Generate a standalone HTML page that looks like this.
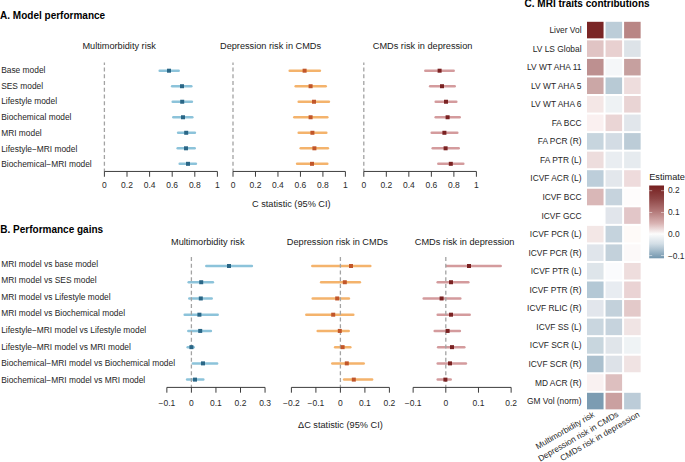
<!DOCTYPE html>
<html><head><meta charset="utf-8"><style>
html,body{margin:0;padding:0;background:#fff;}
svg{display:block;font-family:"Liberation Sans", sans-serif;}
</style></head><body>
<svg width="685" height="462" viewBox="0 0 685 462">
<rect width="685" height="462" fill="#fff"/>
<text x="0.1" y="18.6" font-size="10" text-anchor="start" font-weight="700" fill="#000" >A. Model performance</text>
<text x="0.3" y="233.3" font-size="10" text-anchor="start" font-weight="700" fill="#000" >B. Performance gains</text>
<text x="524.6" y="7.4" font-size="10" text-anchor="start" font-weight="700" fill="#000" >C. MRI traits contributions</text>
<text x="1.2" y="72.9" font-size="8.4" text-anchor="start" font-weight="400" fill="#262626" >Base model</text>
<text x="1.2" y="88.65" font-size="8.4" text-anchor="start" font-weight="400" fill="#262626" >SES model</text>
<text x="1.2" y="104.4" font-size="8.4" text-anchor="start" font-weight="400" fill="#262626" >Lifestyle model</text>
<text x="1.2" y="120.15" font-size="8.4" text-anchor="start" font-weight="400" fill="#262626" >Biochemical model</text>
<text x="1.2" y="135.9" font-size="8.4" text-anchor="start" font-weight="400" fill="#262626" >MRI model</text>
<text x="1.2" y="151.65" font-size="8.4" text-anchor="start" font-weight="400" fill="#262626" >Lifestyle−MRI model</text>
<text x="1.2" y="167.4" font-size="8.4" text-anchor="start" font-weight="400" fill="#262626" >Biochemical−MRI model</text>
<text x="82.4" y="49.4" font-size="9.2" text-anchor="start" font-weight="400" fill="#1a1a1a" >Multimorbidity risk</text>
<line x1="159.7" y1="70.7" x2="178.70000000000002" y2="70.7" stroke="#8cc3da" stroke-width="2.5" stroke-linecap="round"/>
<line x1="172.1" y1="86.22" x2="191.3" y2="86.22" stroke="#8cc3da" stroke-width="2.5" stroke-linecap="round"/>
<line x1="172.7" y1="101.74000000000001" x2="191.9" y2="101.74000000000001" stroke="#8cc3da" stroke-width="2.5" stroke-linecap="round"/>
<line x1="173.29999999999998" y1="117.26" x2="192.3" y2="117.26" stroke="#8cc3da" stroke-width="2.5" stroke-linecap="round"/>
<line x1="178.1" y1="132.78" x2="194.9" y2="132.78" stroke="#8cc3da" stroke-width="2.5" stroke-linecap="round"/>
<line x1="177.7" y1="148.3" x2="194.70000000000002" y2="148.3" stroke="#8cc3da" stroke-width="2.5" stroke-linecap="round"/>
<line x1="179.7" y1="163.82" x2="195.9" y2="163.82" stroke="#8cc3da" stroke-width="2.5" stroke-linecap="round"/>
<line x1="104.4" y1="62.5" x2="104.4" y2="171.45" stroke="#a3a3a3" stroke-width="1.3" stroke-dasharray="4 2.72" stroke-dashoffset="1.6"/>
<rect x="167" y="68.7" width="4" height="4" fill="#2a6686"/>
<rect x="180" y="84.22" width="4" height="4" fill="#2a6686"/>
<rect x="180.2" y="99.74000000000001" width="4" height="4" fill="#2a6686"/>
<rect x="181" y="115.26" width="4" height="4" fill="#2a6686"/>
<rect x="184.2" y="130.78" width="4" height="4" fill="#2a6686"/>
<rect x="184" y="146.3" width="4" height="4" fill="#2a6686"/>
<rect x="186" y="161.82" width="4" height="4" fill="#2a6686"/>
<line x1="104.4" y1="171.45" x2="217.4" y2="171.45" stroke="#333" stroke-width="0.95"/>
<line x1="104.4" y1="171.45" x2="104.4" y2="176.75" stroke="#333" stroke-width="0.95"/>
<text x="104.4" y="187.8" font-size="8.5" text-anchor="middle" font-weight="400" fill="#2a2a2a" >0</text>
<line x1="127.0" y1="171.45" x2="127.0" y2="176.75" stroke="#333" stroke-width="0.95"/>
<text x="127.0" y="187.8" font-size="8.5" text-anchor="middle" font-weight="400" fill="#2a2a2a" >0.2</text>
<line x1="149.60000000000002" y1="171.45" x2="149.60000000000002" y2="176.75" stroke="#333" stroke-width="0.95"/>
<text x="149.6" y="187.8" font-size="8.5" text-anchor="middle" font-weight="400" fill="#2a2a2a" >0.4</text>
<line x1="172.2" y1="171.45" x2="172.2" y2="176.75" stroke="#333" stroke-width="0.95"/>
<text x="172.2" y="187.8" font-size="8.5" text-anchor="middle" font-weight="400" fill="#2a2a2a" >0.6</text>
<line x1="194.8" y1="171.45" x2="194.8" y2="176.75" stroke="#333" stroke-width="0.95"/>
<text x="194.8" y="187.8" font-size="8.5" text-anchor="middle" font-weight="400" fill="#2a2a2a" >0.8</text>
<line x1="217.4" y1="171.45" x2="217.4" y2="176.75" stroke="#333" stroke-width="0.95"/>
<text x="217.4" y="187.8" font-size="8.5" text-anchor="middle" font-weight="400" fill="#2a2a2a" >1</text>
<text x="220.0" y="49.4" font-size="9.2" text-anchor="start" font-weight="400" fill="#1a1a1a" >Depression risk in CMDs</text>
<line x1="289.7" y1="70.7" x2="319.90000000000003" y2="70.7" stroke="#f4b36c" stroke-width="2.5" stroke-linecap="round"/>
<line x1="295.7" y1="86.22" x2="325.7" y2="86.22" stroke="#f4b36c" stroke-width="2.5" stroke-linecap="round"/>
<line x1="298.7" y1="101.74000000000001" x2="328.90000000000003" y2="101.74000000000001" stroke="#f4b36c" stroke-width="2.5" stroke-linecap="round"/>
<line x1="294.3" y1="117.26" x2="327.3" y2="117.26" stroke="#f4b36c" stroke-width="2.5" stroke-linecap="round"/>
<line x1="298.7" y1="132.78" x2="326.3" y2="132.78" stroke="#f4b36c" stroke-width="2.5" stroke-linecap="round"/>
<line x1="300.7" y1="148.3" x2="327.90000000000003" y2="148.3" stroke="#f4b36c" stroke-width="2.5" stroke-linecap="round"/>
<line x1="297.09999999999997" y1="163.82" x2="327.3" y2="163.82" stroke="#f4b36c" stroke-width="2.5" stroke-linecap="round"/>
<line x1="233.0" y1="62.5" x2="233.0" y2="171.45" stroke="#a3a3a3" stroke-width="1.3" stroke-dasharray="4 2.72" stroke-dashoffset="1.6"/>
<rect x="302.6" y="68.7" width="4" height="4" fill="#c1562a"/>
<rect x="308.6" y="84.22" width="4" height="4" fill="#c1562a"/>
<rect x="312" y="99.74000000000001" width="4" height="4" fill="#c1562a"/>
<rect x="308.6" y="115.26" width="4" height="4" fill="#c1562a"/>
<rect x="310.4" y="130.78" width="4" height="4" fill="#c1562a"/>
<rect x="312.4" y="146.3" width="4" height="4" fill="#c1562a"/>
<rect x="310" y="161.82" width="4" height="4" fill="#c1562a"/>
<line x1="233.0" y1="171.45" x2="345.4" y2="171.45" stroke="#333" stroke-width="0.95"/>
<line x1="233.0" y1="171.45" x2="233.0" y2="176.75" stroke="#333" stroke-width="0.95"/>
<text x="233.0" y="187.8" font-size="8.5" text-anchor="middle" font-weight="400" fill="#2a2a2a" >0</text>
<line x1="255.48" y1="171.45" x2="255.48" y2="176.75" stroke="#333" stroke-width="0.95"/>
<text x="255.48" y="187.8" font-size="8.5" text-anchor="middle" font-weight="400" fill="#2a2a2a" >0.2</text>
<line x1="277.96" y1="171.45" x2="277.96" y2="176.75" stroke="#333" stroke-width="0.95"/>
<text x="277.96" y="187.8" font-size="8.5" text-anchor="middle" font-weight="400" fill="#2a2a2a" >0.4</text>
<line x1="300.44" y1="171.45" x2="300.44" y2="176.75" stroke="#333" stroke-width="0.95"/>
<text x="300.44" y="187.8" font-size="8.5" text-anchor="middle" font-weight="400" fill="#2a2a2a" >0.6</text>
<line x1="322.91999999999996" y1="171.45" x2="322.91999999999996" y2="176.75" stroke="#333" stroke-width="0.95"/>
<text x="322.92" y="187.8" font-size="8.5" text-anchor="middle" font-weight="400" fill="#2a2a2a" >0.8</text>
<line x1="345.4" y1="171.45" x2="345.4" y2="176.75" stroke="#333" stroke-width="0.95"/>
<text x="345.4" y="187.8" font-size="8.5" text-anchor="middle" font-weight="400" fill="#2a2a2a" >1</text>
<text x="372.79999999999995" y="49.4" font-size="9.2" text-anchor="start" font-weight="400" fill="#1a1a1a" >CMDs risk in depression</text>
<line x1="425.3" y1="70.7" x2="453.7" y2="70.7" stroke="#d49b9d" stroke-width="2.5" stroke-linecap="round"/>
<line x1="430.09999999999997" y1="86.22" x2="454.7" y2="86.22" stroke="#d49b9d" stroke-width="2.5" stroke-linecap="round"/>
<line x1="435.7" y1="101.74000000000001" x2="456.3" y2="101.74000000000001" stroke="#d49b9d" stroke-width="2.5" stroke-linecap="round"/>
<line x1="435.7" y1="117.26" x2="459.7" y2="117.26" stroke="#d49b9d" stroke-width="2.5" stroke-linecap="round"/>
<line x1="431.7" y1="132.78" x2="457.3" y2="132.78" stroke="#d49b9d" stroke-width="2.5" stroke-linecap="round"/>
<line x1="432.7" y1="148.3" x2="458.7" y2="148.3" stroke="#d49b9d" stroke-width="2.5" stroke-linecap="round"/>
<line x1="438.3" y1="163.82" x2="463.3" y2="163.82" stroke="#d49b9d" stroke-width="2.5" stroke-linecap="round"/>
<line x1="363.8" y1="62.5" x2="363.8" y2="171.45" stroke="#a3a3a3" stroke-width="1.3" stroke-dasharray="4 2.72" stroke-dashoffset="1.6"/>
<rect x="437.6" y="68.7" width="4" height="4" fill="#7a2222"/>
<rect x="440" y="84.22" width="4" height="4" fill="#7a2222"/>
<rect x="444" y="99.74000000000001" width="4" height="4" fill="#7a2222"/>
<rect x="445.6" y="115.26" width="4" height="4" fill="#7a2222"/>
<rect x="442.4" y="130.78" width="4" height="4" fill="#7a2222"/>
<rect x="443.6" y="146.3" width="4" height="4" fill="#7a2222"/>
<rect x="448.8" y="161.82" width="4" height="4" fill="#7a2222"/>
<line x1="363.8" y1="171.45" x2="476.4" y2="171.45" stroke="#333" stroke-width="0.95"/>
<line x1="363.8" y1="171.45" x2="363.8" y2="176.75" stroke="#333" stroke-width="0.95"/>
<text x="363.8" y="187.8" font-size="8.5" text-anchor="middle" font-weight="400" fill="#2a2a2a" >0</text>
<line x1="386.32" y1="171.45" x2="386.32" y2="176.75" stroke="#333" stroke-width="0.95"/>
<text x="386.32" y="187.8" font-size="8.5" text-anchor="middle" font-weight="400" fill="#2a2a2a" >0.2</text>
<line x1="408.84" y1="171.45" x2="408.84" y2="176.75" stroke="#333" stroke-width="0.95"/>
<text x="408.84" y="187.8" font-size="8.5" text-anchor="middle" font-weight="400" fill="#2a2a2a" >0.4</text>
<line x1="431.36" y1="171.45" x2="431.36" y2="176.75" stroke="#333" stroke-width="0.95"/>
<text x="431.36" y="187.8" font-size="8.5" text-anchor="middle" font-weight="400" fill="#2a2a2a" >0.6</text>
<line x1="453.88" y1="171.45" x2="453.88" y2="176.75" stroke="#333" stroke-width="0.95"/>
<text x="453.88" y="187.8" font-size="8.5" text-anchor="middle" font-weight="400" fill="#2a2a2a" >0.8</text>
<line x1="476.4" y1="171.45" x2="476.4" y2="176.75" stroke="#333" stroke-width="0.95"/>
<text x="476.4" y="187.8" font-size="8.5" text-anchor="middle" font-weight="400" fill="#2a2a2a" >1</text>
<text x="252.0" y="206.6" font-size="9.2" text-anchor="start" font-weight="400" fill="#1a1a1a" >C statistic (95% CI)</text>
<text x="1.2" y="266.6" font-size="8.4" text-anchor="start" font-weight="400" fill="#262626" >MRI model vs base model</text>
<text x="1.2" y="283.23" font-size="8.4" text-anchor="start" font-weight="400" fill="#262626" >MRI model vs SES model</text>
<text x="1.2" y="299.86" font-size="8.4" text-anchor="start" font-weight="400" fill="#262626" >MRI model vs Lifestyle model</text>
<text x="1.2" y="316.49" font-size="8.4" text-anchor="start" font-weight="400" fill="#262626" >MRI model vs Biochemical model</text>
<text x="1.2" y="333.12" font-size="8.4" text-anchor="start" font-weight="400" fill="#262626" >Lifestyle−MRI model vs Lifestyle model</text>
<text x="1.2" y="349.75" font-size="8.4" text-anchor="start" font-weight="400" fill="#262626" >Lifestyle−MRI model vs MRI model</text>
<text x="1.2" y="366.38" font-size="8.4" text-anchor="start" font-weight="400" fill="#262626" >Biochemical−MRI model vs Biochemical model</text>
<text x="1.2" y="383.01" font-size="8.4" text-anchor="start" font-weight="400" fill="#262626" >Biochemical−MRI model vs MRI model</text>
<text x="171.0" y="245.0" font-size="9.2" text-anchor="start" font-weight="400" fill="#1a1a1a" >Multimorbidity risk</text>
<line x1="206.29999999999998" y1="266.0" x2="251.9" y2="266.0" stroke="#8cc3da" stroke-width="2.5" stroke-linecap="round"/>
<line x1="188.7" y1="282.23" x2="212.9" y2="282.23" stroke="#8cc3da" stroke-width="2.5" stroke-linecap="round"/>
<line x1="189.29999999999998" y1="298.46" x2="211.70000000000002" y2="298.46" stroke="#8cc3da" stroke-width="2.5" stroke-linecap="round"/>
<line x1="184.7" y1="314.69" x2="217.70000000000002" y2="314.69" stroke="#8cc3da" stroke-width="2.5" stroke-linecap="round"/>
<line x1="188.29999999999998" y1="330.92" x2="210.9" y2="330.92" stroke="#8cc3da" stroke-width="2.5" stroke-linecap="round"/>
<line x1="187.7" y1="347.15" x2="193.70000000000002" y2="347.15" stroke="#8cc3da" stroke-width="2.5" stroke-linecap="round"/>
<line x1="192.89999999999998" y1="363.38" x2="217.10000000000002" y2="363.38" stroke="#8cc3da" stroke-width="2.5" stroke-linecap="round"/>
<line x1="187.1" y1="379.61" x2="203.3" y2="379.61" stroke="#8cc3da" stroke-width="2.5" stroke-linecap="round"/>
<line x1="191.4" y1="256" x2="191.4" y2="387.4" stroke="#a3a3a3" stroke-width="1.3" stroke-dasharray="4 2.72" stroke-dashoffset="-1.05"/>
<rect x="227" y="264.0" width="4" height="4" fill="#2a6686"/>
<rect x="199.2" y="280.23" width="4" height="4" fill="#2a6686"/>
<rect x="198.8" y="296.46" width="4" height="4" fill="#2a6686"/>
<rect x="197.4" y="312.69" width="4" height="4" fill="#2a6686"/>
<rect x="198.2" y="328.92" width="4" height="4" fill="#2a6686"/>
<rect x="189.4" y="345.15" width="4" height="4" fill="#2a6686"/>
<rect x="201" y="361.38" width="4" height="4" fill="#2a6686"/>
<rect x="193" y="377.61" width="4" height="4" fill="#2a6686"/>
<line x1="166.85" y1="387.4" x2="265.05" y2="387.4" stroke="#333" stroke-width="0.95"/>
<line x1="166.85" y1="387.4" x2="166.85" y2="392.7" stroke="#333" stroke-width="0.95"/>
<text x="166.85" y="406.0" font-size="8.5" text-anchor="middle" font-weight="400" fill="#2a2a2a" >−0.1</text>
<line x1="191.4" y1="387.4" x2="191.4" y2="392.7" stroke="#333" stroke-width="0.95"/>
<text x="191.4" y="406.0" font-size="8.5" text-anchor="middle" font-weight="400" fill="#2a2a2a" >0</text>
<line x1="215.95000000000002" y1="387.4" x2="215.95000000000002" y2="392.7" stroke="#333" stroke-width="0.95"/>
<text x="215.95" y="406.0" font-size="8.5" text-anchor="middle" font-weight="400" fill="#2a2a2a" >0.1</text>
<line x1="240.5" y1="387.4" x2="240.5" y2="392.7" stroke="#333" stroke-width="0.95"/>
<text x="240.5" y="406.0" font-size="8.5" text-anchor="middle" font-weight="400" fill="#2a2a2a" >0.2</text>
<line x1="265.05" y1="387.4" x2="265.05" y2="392.7" stroke="#333" stroke-width="0.95"/>
<text x="265.05" y="406.0" font-size="8.5" text-anchor="middle" font-weight="400" fill="#2a2a2a" >0.3</text>
<text x="286.79999999999995" y="245.0" font-size="9.2" text-anchor="start" font-weight="400" fill="#1a1a1a" >Depression risk in CMDs</text>
<line x1="312.3" y1="266.0" x2="370.3" y2="266.0" stroke="#f4b36c" stroke-width="2.5" stroke-linecap="round"/>
<line x1="321.09999999999997" y1="282.23" x2="359.90000000000003" y2="282.23" stroke="#f4b36c" stroke-width="2.5" stroke-linecap="round"/>
<line x1="312.7" y1="298.46" x2="348.90000000000003" y2="298.46" stroke="#f4b36c" stroke-width="2.5" stroke-linecap="round"/>
<line x1="306.3" y1="314.69" x2="353.3" y2="314.69" stroke="#f4b36c" stroke-width="2.5" stroke-linecap="round"/>
<line x1="317.7" y1="330.92" x2="348.7" y2="330.92" stroke="#f4b36c" stroke-width="2.5" stroke-linecap="round"/>
<line x1="335.09999999999997" y1="347.15" x2="350.3" y2="347.15" stroke="#f4b36c" stroke-width="2.5" stroke-linecap="round"/>
<line x1="332.3" y1="363.38" x2="363.7" y2="363.38" stroke="#f4b36c" stroke-width="2.5" stroke-linecap="round"/>
<line x1="344.09999999999997" y1="379.61" x2="372.1" y2="379.61" stroke="#f4b36c" stroke-width="2.5" stroke-linecap="round"/>
<line x1="340.4" y1="256" x2="340.4" y2="387.4" stroke="#a3a3a3" stroke-width="1.3" stroke-dasharray="4 2.72" stroke-dashoffset="-1.05"/>
<rect x="349" y="264.0" width="4" height="4" fill="#c1562a"/>
<rect x="342.8" y="280.23" width="4" height="4" fill="#c1562a"/>
<rect x="335.2" y="296.46" width="4" height="4" fill="#c1562a"/>
<rect x="331.2" y="312.69" width="4" height="4" fill="#c1562a"/>
<rect x="337.8" y="328.92" width="4" height="4" fill="#c1562a"/>
<rect x="340.6" y="345.15" width="4" height="4" fill="#c1562a"/>
<rect x="344.8" y="361.38" width="4" height="4" fill="#c1562a"/>
<rect x="351.8" y="377.61" width="4" height="4" fill="#c1562a"/>
<line x1="291.4" y1="387.4" x2="389.4" y2="387.4" stroke="#333" stroke-width="0.95"/>
<line x1="291.4" y1="387.4" x2="291.4" y2="392.7" stroke="#333" stroke-width="0.95"/>
<text x="291.4" y="406.0" font-size="8.5" text-anchor="middle" font-weight="400" fill="#2a2a2a" >−0.2</text>
<line x1="315.9" y1="387.4" x2="315.9" y2="392.7" stroke="#333" stroke-width="0.95"/>
<text x="315.9" y="406.0" font-size="8.5" text-anchor="middle" font-weight="400" fill="#2a2a2a" >−0.1</text>
<line x1="340.4" y1="387.4" x2="340.4" y2="392.7" stroke="#333" stroke-width="0.95"/>
<text x="340.4" y="406.0" font-size="8.5" text-anchor="middle" font-weight="400" fill="#2a2a2a" >0</text>
<line x1="364.9" y1="387.4" x2="364.9" y2="392.7" stroke="#333" stroke-width="0.95"/>
<text x="364.9" y="406.0" font-size="8.5" text-anchor="middle" font-weight="400" fill="#2a2a2a" >0.1</text>
<line x1="389.4" y1="387.4" x2="389.4" y2="392.7" stroke="#333" stroke-width="0.95"/>
<text x="389.4" y="406.0" font-size="8.5" text-anchor="middle" font-weight="400" fill="#2a2a2a" >0.2</text>
<text x="414.79999999999995" y="245.0" font-size="9.2" text-anchor="start" font-weight="400" fill="#1a1a1a" >CMDs risk in depression</text>
<line x1="446.7" y1="266.0" x2="500.7" y2="266.0" stroke="#d49b9d" stroke-width="2.5" stroke-linecap="round"/>
<line x1="437.7" y1="282.23" x2="468.3" y2="282.23" stroke="#d49b9d" stroke-width="2.5" stroke-linecap="round"/>
<line x1="423.7" y1="298.46" x2="460.3" y2="298.46" stroke="#d49b9d" stroke-width="2.5" stroke-linecap="round"/>
<line x1="437.7" y1="314.69" x2="469.7" y2="314.69" stroke="#d49b9d" stroke-width="2.5" stroke-linecap="round"/>
<line x1="434.7" y1="330.92" x2="459.90000000000003" y2="330.92" stroke="#d49b9d" stroke-width="2.5" stroke-linecap="round"/>
<line x1="438.09999999999997" y1="347.15" x2="464.3" y2="347.15" stroke="#d49b9d" stroke-width="2.5" stroke-linecap="round"/>
<line x1="437.7" y1="363.38" x2="465.90000000000003" y2="363.38" stroke="#d49b9d" stroke-width="2.5" stroke-linecap="round"/>
<line x1="437.7" y1="379.61" x2="450.7" y2="379.61" stroke="#d49b9d" stroke-width="2.5" stroke-linecap="round"/>
<line x1="445.8" y1="256" x2="445.8" y2="387.4" stroke="#a3a3a3" stroke-width="1.3" stroke-dasharray="4 2.72" stroke-dashoffset="-1.05"/>
<rect x="467" y="264.0" width="4" height="4" fill="#7a2222"/>
<rect x="449" y="280.23" width="4" height="4" fill="#7a2222"/>
<rect x="439.6" y="296.46" width="4" height="4" fill="#7a2222"/>
<rect x="449" y="312.69" width="4" height="4" fill="#7a2222"/>
<rect x="445.6" y="328.92" width="4" height="4" fill="#7a2222"/>
<rect x="450" y="345.15" width="4" height="4" fill="#7a2222"/>
<rect x="448" y="361.38" width="4" height="4" fill="#7a2222"/>
<rect x="443.4" y="377.61" width="4" height="4" fill="#7a2222"/>
<line x1="413.13" y1="387.4" x2="511.14" y2="387.4" stroke="#333" stroke-width="0.95"/>
<line x1="413.13" y1="387.4" x2="413.13" y2="392.7" stroke="#333" stroke-width="0.95"/>
<text x="413.13" y="406.0" font-size="8.5" text-anchor="middle" font-weight="400" fill="#2a2a2a" >−0.1</text>
<line x1="445.8" y1="387.4" x2="445.8" y2="392.7" stroke="#333" stroke-width="0.95"/>
<text x="445.8" y="406.0" font-size="8.5" text-anchor="middle" font-weight="400" fill="#2a2a2a" >0</text>
<line x1="478.47" y1="387.4" x2="478.47" y2="392.7" stroke="#333" stroke-width="0.95"/>
<text x="478.47" y="406.0" font-size="8.5" text-anchor="middle" font-weight="400" fill="#2a2a2a" >0.1</text>
<line x1="511.14" y1="387.4" x2="511.14" y2="392.7" stroke="#333" stroke-width="0.95"/>
<text x="511.14" y="406.0" font-size="8.5" text-anchor="middle" font-weight="400" fill="#2a2a2a" >0.2</text>
<text x="298.0" y="428.0" font-size="9.2" text-anchor="start" font-weight="400" fill="#1a1a1a" >ΔC statistic (95% CI)</text>
<rect x="587.0" y="21.8" width="16.55" height="16.55" fill="#7a2626"/>
<rect x="605.55" y="21.8" width="16.55" height="16.55" fill="#bccdd8"/>
<rect x="624.1" y="21.8" width="16.55" height="16.55" fill="#b98685"/>
<text x="581.5" y="33.075" font-size="8.4" text-anchor="end" font-weight="400" fill="#262626" >Liver Vol</text>
<rect x="587.0" y="40.35" width="16.55" height="16.55" fill="#e0c4c4"/>
<rect x="605.55" y="40.35" width="16.55" height="16.55" fill="#e8d0d0"/>
<rect x="624.1" y="40.35" width="16.55" height="16.55" fill="#dde3e8"/>
<text x="581.5" y="51.625" font-size="8.4" text-anchor="end" font-weight="400" fill="#262626" >LV LS Global</text>
<rect x="587.0" y="58.900000000000006" width="16.55" height="16.55" fill="#bd9090"/>
<rect x="605.55" y="58.900000000000006" width="16.55" height="16.55" fill="#f5f7f9"/>
<rect x="624.1" y="58.900000000000006" width="16.55" height="16.55" fill="#c6a09f"/>
<text x="581.5" y="70.17500000000001" font-size="8.4" text-anchor="end" font-weight="400" fill="#262626" >LV WT AHA 11</text>
<rect x="587.0" y="77.45" width="16.55" height="16.55" fill="#cba7a6"/>
<rect x="605.55" y="77.45" width="16.55" height="16.55" fill="#b8cad5"/>
<rect x="624.1" y="77.45" width="16.55" height="16.55" fill="#eedddd"/>
<text x="581.5" y="88.72500000000001" font-size="8.4" text-anchor="end" font-weight="400" fill="#262626" >LV WT AHA 5</text>
<rect x="587.0" y="96.0" width="16.55" height="16.55" fill="#f4e7e6"/>
<rect x="605.55" y="96.0" width="16.55" height="16.55" fill="#eef2f4"/>
<rect x="624.1" y="96.0" width="16.55" height="16.55" fill="#e9d4d4"/>
<text x="581.5" y="107.275" font-size="8.4" text-anchor="end" font-weight="400" fill="#262626" >LV WT AHA 6</text>
<rect x="587.0" y="114.55" width="16.55" height="16.55" fill="#faf0f0"/>
<rect x="605.55" y="114.55" width="16.55" height="16.55" fill="#ead5d5"/>
<rect x="624.1" y="114.55" width="16.55" height="16.55" fill="#e1e6eb"/>
<text x="581.5" y="125.825" font-size="8.4" text-anchor="end" font-weight="400" fill="#262626" >FA BCC</text>
<rect x="587.0" y="133.10000000000002" width="16.55" height="16.55" fill="#c7d5de"/>
<rect x="605.55" y="133.10000000000002" width="16.55" height="16.55" fill="#d3dce4"/>
<rect x="624.1" y="133.10000000000002" width="16.55" height="16.55" fill="#bcccd7"/>
<text x="581.5" y="144.37500000000003" font-size="8.4" text-anchor="end" font-weight="400" fill="#262626" >FA PCR (R)</text>
<rect x="587.0" y="151.65" width="16.55" height="16.55" fill="#eddddd"/>
<rect x="605.55" y="151.65" width="16.55" height="16.55" fill="#e9edf1"/>
<rect x="624.1" y="151.65" width="16.55" height="16.55" fill="#e6ebef"/>
<text x="581.5" y="162.925" font-size="8.4" text-anchor="end" font-weight="400" fill="#262626" >FA PTR (L)</text>
<rect x="587.0" y="170.20000000000002" width="16.55" height="16.55" fill="#bdceda"/>
<rect x="605.55" y="170.20000000000002" width="16.55" height="16.55" fill="#e3e7ec"/>
<rect x="624.1" y="170.20000000000002" width="16.55" height="16.55" fill="#eedbdc"/>
<text x="581.5" y="181.47500000000002" font-size="8.4" text-anchor="end" font-weight="400" fill="#262626" >ICVF ACR (L)</text>
<rect x="587.0" y="188.75000000000003" width="16.55" height="16.55" fill="#d9b7b7"/>
<rect x="605.55" y="188.75000000000003" width="16.55" height="16.55" fill="#c6d3dd"/>
<rect x="624.1" y="188.75000000000003" width="16.55" height="16.55" fill="#fefcfc"/>
<text x="581.5" y="200.02500000000003" font-size="8.4" text-anchor="end" font-weight="400" fill="#262626" >ICVF BCC</text>
<rect x="587.0" y="207.3" width="16.55" height="16.55" fill="#ffffff"/>
<rect x="605.55" y="207.3" width="16.55" height="16.55" fill="#e1e5eb"/>
<rect x="624.1" y="207.3" width="16.55" height="16.55" fill="#e2c6c8"/>
<text x="581.5" y="218.57500000000002" font-size="8.4" text-anchor="end" font-weight="400" fill="#262626" >ICVF GCC</text>
<rect x="587.0" y="225.85000000000002" width="16.55" height="16.55" fill="#f3e7e6"/>
<rect x="605.55" y="225.85000000000002" width="16.55" height="16.55" fill="#c5d3dd"/>
<rect x="624.1" y="225.85000000000002" width="16.55" height="16.55" fill="#fefaf8"/>
<text x="581.5" y="237.12500000000003" font-size="8.4" text-anchor="end" font-weight="400" fill="#262626" >ICVF PCR (L)</text>
<rect x="587.0" y="244.40000000000003" width="16.55" height="16.55" fill="#e0e5eb"/>
<rect x="605.55" y="244.40000000000003" width="16.55" height="16.55" fill="#c3d1db"/>
<rect x="624.1" y="244.40000000000003" width="16.55" height="16.55" fill="#fcf9f9"/>
<text x="581.5" y="255.67500000000004" font-size="8.4" text-anchor="end" font-weight="400" fill="#262626" >ICVF PCR (R)</text>
<rect x="587.0" y="262.95" width="16.55" height="16.55" fill="#dee5ea"/>
<rect x="605.55" y="262.95" width="16.55" height="16.55" fill="#fafbfd"/>
<rect x="624.1" y="262.95" width="16.55" height="16.55" fill="#eedddd"/>
<text x="581.5" y="274.22499999999997" font-size="8.4" text-anchor="end" font-weight="400" fill="#262626" >ICVF PTR (L)</text>
<rect x="587.0" y="281.5" width="16.55" height="16.55" fill="#b4c8d5"/>
<rect x="605.55" y="281.5" width="16.55" height="16.55" fill="#e8ecf1"/>
<rect x="624.1" y="281.5" width="16.55" height="16.55" fill="#ead3d4"/>
<text x="581.5" y="292.775" font-size="8.4" text-anchor="end" font-weight="400" fill="#262626" >ICVF PTR (R)</text>
<rect x="587.0" y="300.05" width="16.55" height="16.55" fill="#e2e6ec"/>
<rect x="605.55" y="300.05" width="16.55" height="16.55" fill="#c3d1db"/>
<rect x="624.1" y="300.05" width="16.55" height="16.55" fill="#e3c9c9"/>
<text x="581.5" y="311.325" font-size="8.4" text-anchor="end" font-weight="400" fill="#262626" >ICVF RLIC (R)</text>
<rect x="587.0" y="318.6" width="16.55" height="16.55" fill="#c9d6df"/>
<rect x="605.55" y="318.6" width="16.55" height="16.55" fill="#c6d3dd"/>
<rect x="624.1" y="318.6" width="16.55" height="16.55" fill="#f0e4e4"/>
<text x="581.5" y="329.875" font-size="8.4" text-anchor="end" font-weight="400" fill="#262626" >ICVF SS (L)</text>
<rect x="587.0" y="337.15000000000003" width="16.55" height="16.55" fill="#c8d6de"/>
<rect x="605.55" y="337.15000000000003" width="16.55" height="16.55" fill="#e0e5ea"/>
<rect x="624.1" y="337.15000000000003" width="16.55" height="16.55" fill="#eff3f5"/>
<text x="581.5" y="348.425" font-size="8.4" text-anchor="end" font-weight="400" fill="#262626" >ICVF SCR (L)</text>
<rect x="587.0" y="355.70000000000005" width="16.55" height="16.55" fill="#abc0ce"/>
<rect x="605.55" y="355.70000000000005" width="16.55" height="16.55" fill="#dde2e8"/>
<rect x="624.1" y="355.70000000000005" width="16.55" height="16.55" fill="#f0e3e3"/>
<text x="581.5" y="366.975" font-size="8.4" text-anchor="end" font-weight="400" fill="#262626" >ICVF SCR (R)</text>
<rect x="587.0" y="374.25" width="16.55" height="16.55" fill="#f9f1f1"/>
<rect x="605.55" y="374.25" width="16.55" height="16.55" fill="#ddbfbf"/>
<rect x="624.1" y="374.25" width="16.55" height="16.55" fill="#ffffff"/>
<text x="581.5" y="385.525" font-size="8.4" text-anchor="end" font-weight="400" fill="#262626" >MD ACR (R)</text>
<rect x="587.0" y="392.8" width="16.55" height="16.55" fill="#7c9cb2"/>
<rect x="605.55" y="392.8" width="16.55" height="16.55" fill="#caa0a0"/>
<rect x="624.1" y="392.8" width="16.55" height="16.55" fill="#bcccd8"/>
<text x="581.5" y="404.075" font-size="8.4" text-anchor="end" font-weight="400" fill="#262626" >GM Vol (norm)</text>
<text x="0" y="0" font-size="8.3" text-anchor="end" fill="#262626"  transform="translate(595.2,416.2) rotate(-30)">Multimorbidity risk</text>
<text x="0" y="0" font-size="8.3" text-anchor="end" fill="#262626"  transform="translate(619.2,416.0) rotate(-30)">Depression risk in CMDs</text>
<text x="0" y="0" font-size="8.3" text-anchor="end" fill="#262626"  transform="translate(640.2,416.2) rotate(-30)">CMDs risk in depression</text>
<text x="649.2" y="180.0" font-size="9.2" text-anchor="start" font-weight="400" fill="#1a1a1a" >Estimate</text>
<defs><linearGradient id="g" x1="0" y1="0" x2="0" y2="1">
<stop offset="0" stop-color="#761f1f"/><stop offset="0.18" stop-color="#8e4545"/><stop offset="0.35" stop-color="#b27777"/><stop offset="0.52" stop-color="#d9b3b3"/><stop offset="0.665" stop-color="#fcfcfc"/>
<stop offset="0.8" stop-color="#d3dee6"/><stop offset="1" stop-color="#7296ae"/></linearGradient></defs>
<rect x="649.2" y="185.5" width="14.8" height="72.8" fill="url(#g)"/>
<line x1="649.2" y1="190.7" x2="652.2" y2="190.7" stroke="#fff" stroke-width="0.8" stroke-opacity="0.6"/>
<line x1="661" y1="190.7" x2="664" y2="190.7" stroke="#fff" stroke-width="0.8" stroke-opacity="0.6"/>
<text x="667.9" y="193.2" font-size="8.4" text-anchor="start" font-weight="400" fill="#2a2a2a" >0.2</text>
<line x1="649.2" y1="212.5" x2="652.2" y2="212.5" stroke="#fff" stroke-width="0.8" stroke-opacity="0.6"/>
<line x1="661" y1="212.5" x2="664" y2="212.5" stroke="#fff" stroke-width="0.8" stroke-opacity="0.6"/>
<text x="667.9" y="215.4" font-size="8.4" text-anchor="start" font-weight="400" fill="#2a2a2a" >0.1</text>
<line x1="649.2" y1="234.4" x2="652.2" y2="234.4" stroke="#fff" stroke-width="0.8" stroke-opacity="0.6"/>
<line x1="661" y1="234.4" x2="664" y2="234.4" stroke="#fff" stroke-width="0.8" stroke-opacity="0.6"/>
<text x="667.9" y="236.8" font-size="8.4" text-anchor="start" font-weight="400" fill="#2a2a2a" >0.0</text>
<line x1="649.2" y1="255.5" x2="652.2" y2="255.5" stroke="#fff" stroke-width="0.8" stroke-opacity="0.6"/>
<line x1="661" y1="255.5" x2="664" y2="255.5" stroke="#fff" stroke-width="0.8" stroke-opacity="0.6"/>
<text x="667.9" y="258.6" font-size="8.4" text-anchor="start" font-weight="400" fill="#2a2a2a" >−0.1</text>
</svg></body></html>
